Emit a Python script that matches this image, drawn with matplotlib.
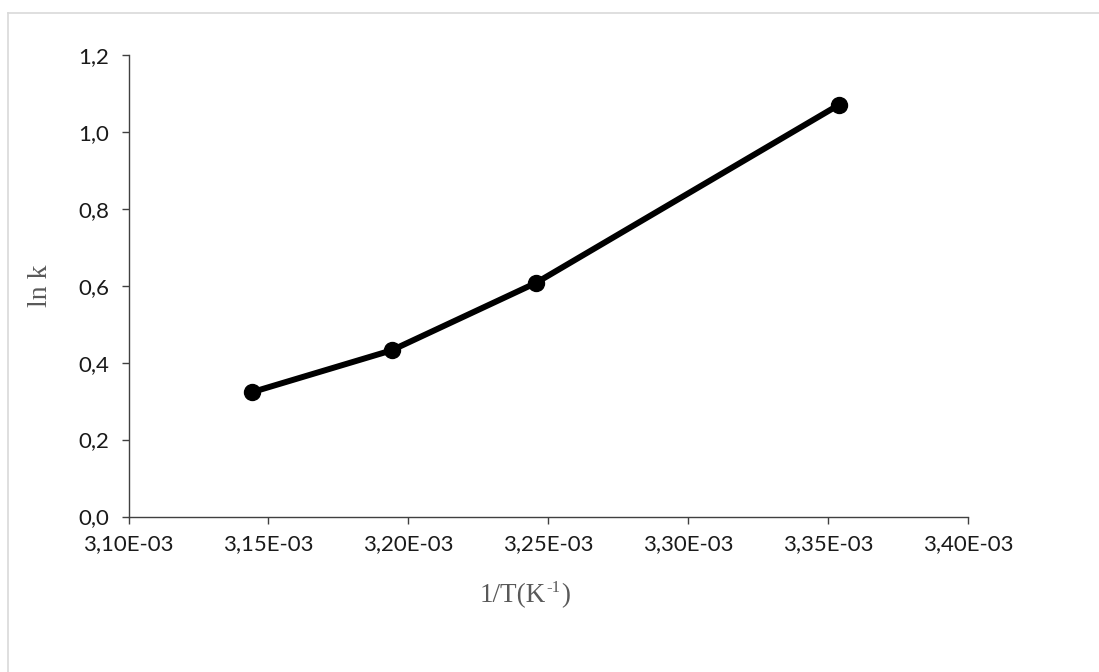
import matplotlib
matplotlib.use('Agg')
import matplotlib.pyplot as plt
from matplotlib.lines import Line2D
from matplotlib.ticker import FixedLocator, FuncFormatter

# data
inv_T = [3.1440e-3, 3.1940e-3, 3.2455e-3, 3.3540e-3]
ln_k = [0.323, 0.432, 0.607, 1.071]

x_ticks = [3.10e-3, 3.15e-3, 3.20e-3, 3.25e-3, 3.30e-3, 3.35e-3, 3.40e-3]
y_ticks = [0.0, 0.2, 0.4, 0.6, 0.8, 1.0, 1.2]

W, H = 1099, 672
fig = plt.figure(figsize=(W / 100, H / 100), dpi=100)
ax = fig.add_axes([128.5 / W, 1 - 516.5 / H, (968 - 128.5) / W, (516.5 - 55) / H])

ax.plot(inv_T, ln_k, color='black', lw=4.3, marker='o', ms=11.5,
        solid_capstyle='round', zorder=3)

ax.set_xlim(3.10e-3, 3.40e-3)
ax.set_ylim(0.0, 1.2)
ax.xaxis.set_major_locator(FixedLocator(x_ticks))
ax.yaxis.set_major_locator(FixedLocator(y_ticks))
ax.xaxis.set_major_formatter(FuncFormatter(
    lambda v, p: ('%.2E' % v).replace('.', ',')))
ax.yaxis.set_major_formatter(FuncFormatter(
    lambda v, p: ('%.1f' % v).replace('.', ',')))

for s in ['top', 'right']:
    ax.spines[s].set_visible(False)
for s in ['left', 'bottom']:
    ax.spines[s].set_color('#404040')
    ax.spines[s].set_linewidth(1.0)

ax.tick_params(axis='both', direction='out', length=5, width=1.0,
               color='#404040', labelcolor='#1a1a1a', labelsize=16)
ax.tick_params(axis='y', pad=9)
ax.tick_params(axis='x', pad=8)
for lab in ax.get_xticklabels() + ax.get_yticklabels():
    lab.set_fontfamily('Lato')

ax.set_ylabel('ln k', family='Liberation Serif', fontsize=20,
              color='#595959')
ax.yaxis.set_label_coords((53 - 128.5) / (968 - 128.5), 0.5)

# x label: "1/T(K" + small raised "-1" + ")", laid out piece by piece
lab_kw = dict(family='Liberation Serif', color='#595959', va='baseline')
renderer = fig.canvas.get_renderer()
base_y = 1 - 602 / H
t1 = fig.text(480 / W, base_y, '1/T(K', fontsize=19.5, ha='left', **lab_kw)
x_end = t1.get_window_extent(renderer).x1
t2 = fig.text((x_end + 0.5) / W, 1 - 592 / H, '-1', fontsize=12,
              ha='left', **lab_kw)
x_end = t2.get_window_extent(renderer).x1
fig.text((x_end + 0.5) / W, base_y, ')', fontsize=19.5, ha='left', **lab_kw)

# light chart-area frame (only top and left edges visible)
fig.add_artist(Line2D([8 / W, 1.0], [1 - 12.5 / H, 1 - 12.5 / H],
                      transform=fig.transFigure, color='#d9d9d9', lw=1.2))
fig.add_artist(Line2D([8 / W, 8 / W], [0.0, 1 - 12.5 / H],
                      transform=fig.transFigure, color='#d9d9d9', lw=1.2))

fig.savefig('out.png', dpi=100)
